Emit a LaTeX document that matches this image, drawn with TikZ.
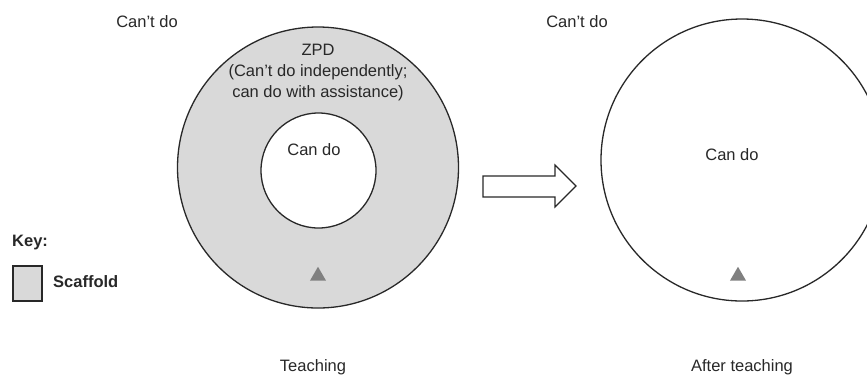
\documentclass[tikz,border=0pt]{standalone}
\usepackage{fontspec}
\setmainfont{Liberation Sans}
\usetikzlibrary{shapes.geometric}
\definecolor{scaff}{RGB}{217,217,217}
\definecolor{tri}{RGB}{128,128,128}
\definecolor{ink}{RGB}{40,40,40}
\tikzset{
  ring/.style={draw=ink, circle, line width=1.3pt, inner sep=0pt, minimum size=#1},
  lbl/.style={font=\fontsize{16.5}{21}\selectfont, text=ink, inner sep=0pt, align=center},
  bold/.style={font=\fontsize{16.5}{21}\selectfont\bfseries, text=ink, inner sep=0pt},
  marker/.style={regular polygon, regular polygon sides=3, fill=tri, inner sep=0pt, minimum size=18.5pt}
}
\begin{document}
\begin{tikzpicture}[x=1pt,y=-1pt]
\useasboundingbox[fill=white] (0,0) rectangle (867,376);
% left diagram
\node[ring=281pt, fill=scaff] (outer) at (318,167.5) {};
\node[ring=115pt, fill=white] (inner) at (318.5,170.5) {};
\node[lbl] (cantL) at (147,22) {Can’t do};
\node[lbl] (zpd) at (318,73) {ZPD\\(Can’t do independently;\\can do with assistance)};
\node[lbl] (candoL) at (314,150) {Can do};
\node[marker] (triL) at (318,276) {};
\node[lbl] (teach) at (313,367) {Teaching};
% arrow
\draw[draw=ink, line width=1.2pt, fill=white] (483,176) -- (555,176) -- (555,165) -- (576,186) -- (555,207) -- (555,197) -- (483,197) -- cycle;
% right diagram
\node[ring=282pt, fill=white] (after) at (742,160) {};
\node[lbl] (cantR) at (577,22) {Can’t do};
\node[lbl] (candoR) at (732,155) {Can do};
\node[marker] (triR) at (738,276) {};
\node[lbl] (afterT) at (742,367) {After teaching};
% key
\node[bold, anchor=west] (key) at (12,243) {Key:};
\node[draw=ink, line width=1.3pt, fill=scaff, minimum width=29pt, minimum height=35pt, inner sep=0pt] (keybox) at (27.5,283.5) {};
\node[bold, anchor=west] (scaffold) at (53,282) {Scaffold};
\end{tikzpicture}
\end{document}
